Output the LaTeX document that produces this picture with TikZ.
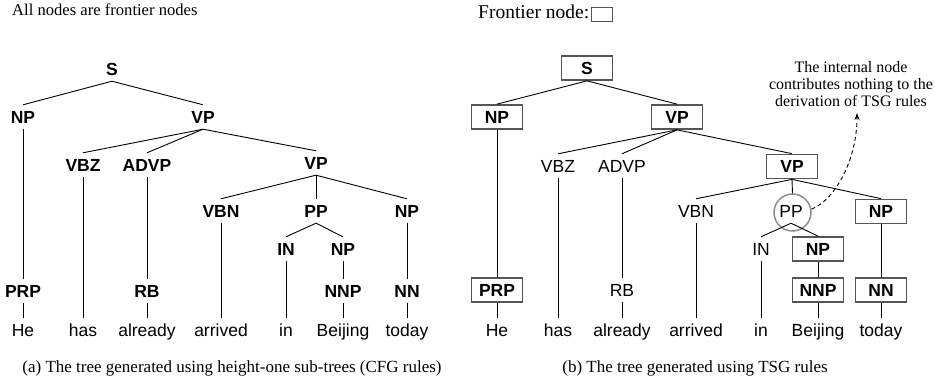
\documentclass[tikz,border=0pt]{standalone}
\usepackage{fontspec}
\setmainfont{Liberation Serif}
\setsansfont{Liberation Sans}
\usepackage{tikz}
\usetikzlibrary{shapes.geometric, arrows.meta}
\definecolor{framegray}{HTML}{555555}
\definecolor{ringgray}{HTML}{8C8C8C}
\tikzstyle{tag} = [rectangle, minimum width=51pt, text height=12.5pt, text depth=0pt, inner ysep=5.75pt, text centered, font=\fontsize{17.5}{21}\selectfont\sffamily]
\tikzstyle{boldtag} = [tag, font=\fontsize{17.5}{21}\selectfont\sffamily\bfseries]
\tikzstyle{frontier} = [boldtag, draw=framegray, line width=1.7pt]
\tikzstyle{word} = [rectangle, text height=12.5pt, text depth=3.7pt, inner ysep=6pt, text centered, font=\fontsize{17.5}{21}\selectfont\sffamily]
\tikzstyle{ring} = [circle, draw=ringgray, line width=1.5pt, minimum size=37pt, inner sep=0pt]
\tikzstyle{keybox} = [rectangle, draw=framegray, line width=1.7pt, minimum width=21pt, minimum height=14pt, inner sep=0pt]
\tikzstyle{branch} = [line width=0.9pt]
\tikzstyle{arrow} = [line width=0.9pt, dash pattern=on 4pt off 3pt, ->, >={Stealth[length=7pt, width=5pt]}]
\tikzstyle{titletext} = [inner sep=0pt, font=\fontsize{16.6}{19}\selectfont]
\tikzstyle{captext} = [inner sep=0pt, font=\fontsize{17}{20}\selectfont]
\tikzstyle{notetext} = [inner sep=0pt, align=center, font=\fontsize{16}{17}\selectfont]

\begin{document}
\begin{tikzpicture}[x=1pt, y=-1pt, node distance=48pt]
\useasboundingbox (0,0) rectangle (935,383);

% (a) height-one sub-trees
\node (lTitle) [titletext, anchor=base west] at (12,15.7) {All nodes are frontier nodes};
\node (lS) [boldtag] at (112,69) {S};
\node (lNP) [boldtag, below of = lS, xshift=-89pt] {NP};
\node (lVP) [boldtag, below of = lS, xshift=91pt] {VP};
\node (lVBZ) [boldtag, below of = lVP, xshift=-120pt] {VBZ};
\node (lADVP) [boldtag, below of = lVP, xshift=-56pt] {ADVP};
\node (lVPb) [boldtag, below of = lVP, xshift=113pt, yshift=2pt] {VP};
\node (lVBN) [boldtag, below of = lVPb, xshift=-95pt] {VBN};
\node (lPP) [boldtag, below of = lVPb] {PP};
\node (lNPc) [boldtag, below of = lVPb, xshift=91pt] {NP};
\node (lIN) [boldtag, below of = lPP, xshift=-30pt, yshift=10pt] {IN};
\node (lNPd) [boldtag, below of = lPP, xshift=27pt, yshift=10pt] {NP};
\node (lPRP) [boldtag, below of = lNP, yshift=-126pt] {PRP};
\node (lRB) [boldtag, below of = lADVP, yshift=-78pt] {RB};
\node (lNNP) [boldtag, below of = lNPd, yshift=6pt] {NNP};
\node (lNN) [boldtag, below of = lNPc, yshift=-32pt] {NN};
\node (lHe) [word, below of = lPRP, yshift=6.5pt] {He};
\node (lhas) [word, below of = lVBZ, yshift=-119.5pt] {has};
\node (lalready) [word, below of = lRB, yshift=6.5pt] {already};
\node (larrived) [word, below of = lVBN, yshift=-73.5pt] {arrived};
\node (lin) [word, below of = lIN, yshift=-35.5pt] {in};
\node (lBeijing) [word, below of = lNNP, yshift=6.5pt] {Beijing};
\node (ltoday) [word, below of = lNN, yshift=6.5pt] {today};
\node (lCap) [captext, anchor=base] at (232,372) {(a) The tree generated using height-one sub-trees (CFG rules)};

\draw [branch] (lS.south) -- (lNP.north);
\draw [branch] (lS.south) -- (lVP.north);
\draw [branch] (lVP.south) -- (lVBZ.north);
\draw [branch] (lVP.south) -- (lADVP.north);
\draw [branch] (lVP.south) -- (lVPb.north);
\draw [branch] (lVPb.south) -- (lVBN.north);
\draw [branch] (lVPb.south) -- (lPP.north);
\draw [branch] (lVPb.south) -- (lNPc.north);
\draw [branch] (lPP.south) -- (lIN.north);
\draw [branch] (lPP.south) -- (lNPd.north);
\draw [branch] (lNP.south) -- (lPRP.north);
\draw [branch] (lPRP.south) -- (lHe.north);
\draw [branch] (lVBZ.south) -- (lhas.north);
\draw [branch] (lADVP.south) -- (lRB.north);
\draw [branch] (lRB.south) -- (lalready.north);
\draw [branch] (lVBN.south) -- (larrived.north);
\draw [branch] (lIN.south) -- (lin.north);
\draw [branch] (lNPd.south) -- (lNNP.north);
\draw [branch] (lNNP.south) -- (lBeijing.north);
\draw [branch] (lNPc.south) -- (lNN.north);
\draw [branch] (lNN.south) -- (ltoday.north);

% (b) TSG rules
\node (rKey) [titletext, anchor=base west, font=\fontsize{19.5}{22}\selectfont] at (478,18.3) {Frontier node:};
\node (rKeyBox) [keybox] at (602,14.5) {};
\node (rS) [frontier] at (587,68) {S};
\node (rNP) [frontier, below of = rS, xshift=-90pt, yshift=-1pt] {NP};
\node (rVP) [frontier, below of = rS, xshift=90pt, yshift=-1pt] {VP};
\node (rVBZ) [tag, below of = rVP, xshift=-119pt, yshift=-1pt] {VBZ};
\node (rADVP) [tag, below of = rVP, xshift=-55pt, yshift=-1pt] {ADVP};
\node (rVPb) [frontier, below of = rVP, xshift=115pt, yshift=-1.5pt] {VP};
\node (rVBN) [tag, below of = rVPb, xshift=-96pt, yshift=3.5pt] {VBN};
\node (rPP) [tag, below of = rVPb, xshift=-1pt, yshift=3.5pt] {PP};
\node (rRing) [ring] at ([xshift=1.5pt, yshift=-1.5pt]rPP.center) {};
\node (rNPc) [frontier, below of = rVPb, xshift=89pt, yshift=3pt] {NP};
\node (rIN) [tag, below of = rPP, xshift=-30pt, yshift=10pt] {IN};
\node (rNPd) [frontier, below of = rPP, xshift=27pt, yshift=10pt] {NP};
\node (rPRP) [frontier, below of = rNP, yshift=-125pt] {PRP};
\node (rRB) [tag, below of = rADVP, yshift=-76pt] {RB};
\node (rNNP) [frontier, below of = rNPd, yshift=7pt] {NNP};
\node (rNN) [frontier, below of = rNPc, yshift=-30.5pt] {NN};
\node (rHe) [word, below of = rPRP, yshift=5.5pt] {He};
\node (rhas) [word, below of = rVBZ, yshift=-118.5pt] {has};
\node (ralready) [word, below of = rRB, yshift=5.5pt] {already};
\node (rarrived) [word, below of = rVBN, yshift=-73.5pt] {arrived};
\node (rin) [word, below of = rIN, yshift=-35.5pt] {in};
\node (rBeijing) [word, below of = rNNP, yshift=5.5pt] {Beijing};
\node (rtoday) [word, below of = rNN, yshift=5.5pt] {today};
\node (rNote) [notetext] at (851,84.3) {The internal node\\contributes nothing to the\\derivation of TSG rules};
\coordinate (rNoteTip) at (857,113);
\node (rCap) [captext, anchor=base] at (695,372) {(b) The tree generated using TSG rules};

\draw [branch] (rS.south) -- (rNP.north);
\draw [branch] (rS.south) -- (rVP.north);
\draw [branch] (rVP.south) -- (rVBZ.north);
\draw [branch] (rVP.south) -- (rADVP.north);
\draw [branch] (rVP.south) -- (rVPb.north);
\draw [branch] (rVPb.south) -- (rVBN.north);
\draw [branch] (rVPb.south) -- (rRing.north);
\draw [branch] (rVPb.south) -- (rNPc.north);
\draw [branch] (rPP.south) -- (rIN.north);
\draw [branch] (rPP.south) -- (rNPd.north);
\draw [branch] (rNP.south) -- (rPRP.north);
\draw [branch] (rPRP.south) -- (rHe.north);
\draw [branch] (rVBZ.south) -- (rhas.north);
\draw [branch] (rADVP.south) -- (rRB.north);
\draw [branch] (rRB.south) -- (ralready.north);
\draw [branch] (rVBN.south) -- (rarrived.north);
\draw [branch] (rIN.south) -- (rin.north);
\draw [branch] (rNPd.south) -- (rNNP.north);
\draw [branch] (rNNP.south) -- (rBeijing.north);
\draw [branch] (rNPc.south) -- (rNN.north);
\draw [branch] (rNN.south) -- (rtoday.north);
\draw [arrow] (rRing.10) .. controls (835,200) and (857,160) .. (rNoteTip);
\end{tikzpicture}
\end{document}
